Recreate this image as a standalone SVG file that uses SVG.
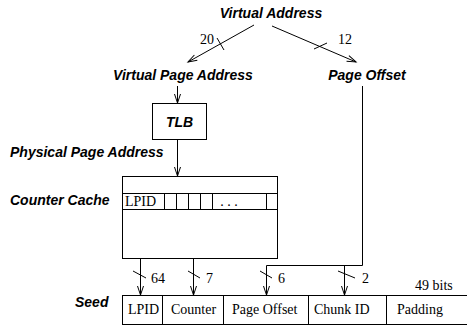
<svg xmlns="http://www.w3.org/2000/svg" width="467" height="327" viewBox="0 0 467 327">
<style>
.lbl{font-family:"Liberation Sans",Arial,sans-serif;font-weight:bold;font-style:italic;font-size:14px;fill:#000}
.t{font-family:"Liberation Serif","Times New Roman",serif;font-size:14px;fill:#000}
.box{fill:#fff;stroke:#000;stroke-width:1}
.ln{fill:none;stroke:#000;stroke-width:1}
</style>
<defs>
<marker id="arr" markerUnits="userSpaceOnUse" markerWidth="10" markerHeight="8" refX="9" refY="3" orient="auto" overflow="visible">
<path d="M0,0 L9,3 L0,6" fill="none" stroke="#000" stroke-width="1"/>
</marker>
</defs>
<rect width="467" height="327" fill="#fff"/>
<g id="connectors">
<line class="ln" x1="254" y1="25" x2="188" y2="62" marker-end="url(#arr)"/>
<line class="ln" x1="217" y1="38" x2="224" y2="50"/>
<text class="t" x="200" y="44">20</text>
<line class="ln" x1="272" y1="26" x2="356" y2="62" marker-end="url(#arr)"/>
<line class="ln" x1="314" y1="49" x2="327" y2="43"/>
<text class="t" x="338" y="44">12</text>
<line class="ln" x1="177.5" y1="86" x2="177.5" y2="103" marker-end="url(#arr)"/>
<line class="ln" x1="177.5" y1="139" x2="177.5" y2="176" marker-end="url(#arr)"/>
<line class="ln" x1="140.5" y1="209" x2="140.5" y2="295" marker-end="url(#arr)"/>
<line class="ln" x1="133" y1="271" x2="146" y2="278"/>
<text class="t" x="151" y="283">64</text>
<line class="ln" x1="193.5" y1="209" x2="193.5" y2="295" marker-end="url(#arr)"/>
<line class="ln" x1="188" y1="271" x2="200" y2="278"/>
<text class="t" x="206" y="283">7</text>
<polyline class="ln" points="362.5,86 362.5,265.5 266.5,265.5 266.5,295" marker-end="url(#arr)"/>
<line class="ln" x1="260" y1="271" x2="272" y2="278"/>
<text class="t" x="278" y="283">6</text>
<line class="ln" x1="344.5" y1="265.5" x2="344.5" y2="295" marker-end="url(#arr)"/>
<line class="ln" x1="338" y1="271" x2="355" y2="278"/>
<text class="t" x="362" y="283">2</text>
</g>
<g id="virtual-address"><text class="lbl" x="271" y="18" text-anchor="middle">Virtual Address</text></g>
<g id="virtual-page-address"><text class="lbl" x="183" y="80" text-anchor="middle">Virtual Page Address</text></g>
<g id="page-offset"><text class="lbl" x="367" y="80" text-anchor="middle">Page Offset</text></g>
<g id="tlb">
<rect class="box" x="152.5" y="103.5" width="54" height="36"/>
<text class="lbl" x="179.5" y="127" text-anchor="middle">TLB</text>
</g>
<g id="physical-page-address"><text class="lbl" x="10" y="157">Physical Page Address</text></g>
<g id="counter-cache">
<text class="lbl" x="10" y="205">Counter Cache</text>
<rect class="box" x="122.5" y="176.5" width="155" height="82"/>
<line class="ln" x1="122.5" y1="193.5" x2="277.5" y2="193.5"/>
<line class="ln" x1="122.5" y1="209.5" x2="277.5" y2="209.5"/>
<line class="ln" x1="164.5" y1="193.5" x2="164.5" y2="209.5"/>
<line class="ln" x1="176.5" y1="193.5" x2="176.5" y2="209.5"/>
<line class="ln" x1="188.5" y1="193.5" x2="188.5" y2="209.5"/>
<line class="ln" x1="200.5" y1="193.5" x2="200.5" y2="209.5"/>
<line class="ln" x1="212.5" y1="193.5" x2="212.5" y2="209.5"/>
<line class="ln" x1="266.5" y1="193.5" x2="266.5" y2="209.5"/>
<text class="t" x="125" y="206">LPID</text>
<text class="t" x="229" y="206" text-anchor="middle">. . .</text>
</g>
<g id="seed">
<text class="lbl" x="75" y="307">Seed</text>
<text class="t" x="415" y="290">49 bits</text>
<rect class="box" x="122.5" y="295.5" width="350" height="29"/>
<line class="ln" x1="162.5" y1="295.5" x2="162.5" y2="324.5"/>
<line class="ln" x1="223.5" y1="295.5" x2="223.5" y2="324.5"/>
<line class="ln" x1="308.5" y1="295.5" x2="308.5" y2="324.5"/>
<line class="ln" x1="386.5" y1="295.5" x2="386.5" y2="324.5"/>
<text class="t" x="128" y="314">LPID</text>
<text class="t" x="171" y="314">Counter</text>
<text class="t" x="232" y="314">Page Offset</text>
<text class="t" x="314" y="314">Chunk ID</text>
<text class="t" x="397" y="314">Padding</text>
</g>
</svg>
